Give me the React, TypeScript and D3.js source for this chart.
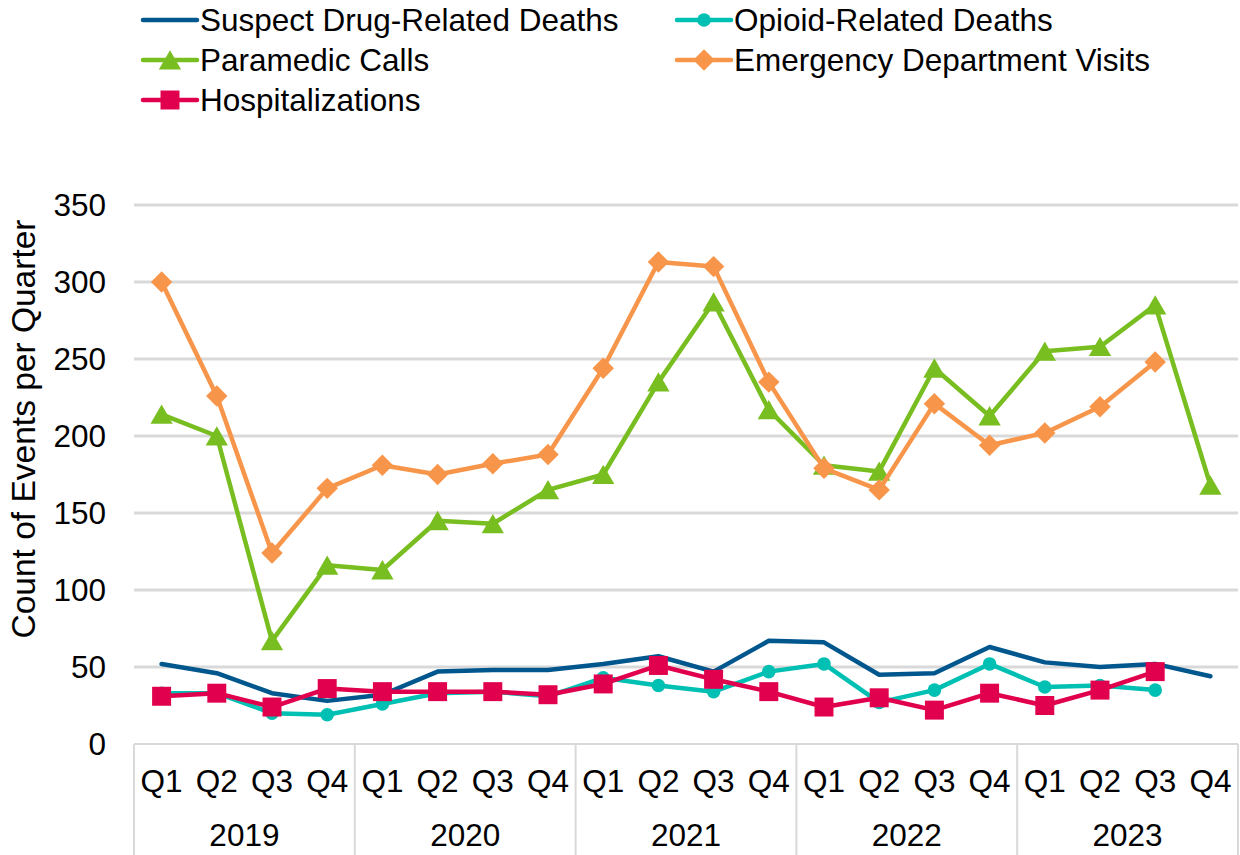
import * as d3 from "d3";
import React, { useEffect, useRef } from "react";

// quarters / years on the x axis
const years = ["2019", "2020", "2021", "2022", "2023"];
const quarters = ["Q1", "Q2", "Q3", "Q4"];
const yTicks = [0, 50, 100, 150, 200, 250, 300, 350];

// values (null = no point)
const suspectDeaths: (number | null)[] = [52, 46, 33, 28, 32, 47, 48, 48, 52, 57, 47, 67, 66, 45, 46, 63, 53, 50, 52, 44];
const opioidDeaths: (number | null)[] = [33, 33, 20, 19, 26, 33, 34, 31, 43, 38, 34, 47, 52, 27, 35, 52, 37, 38, 35, null];
const paramedicCalls: (number | null)[] = [214, 200, 67, 116, 113, 145, 143, 165, 175, 235, 287, 217, 181, 177, 244, 213, 255, 258, 285, 168];
const edVisits: (number | null)[] = [300, 226, 124, 166, 181, 175, 182, 188, 244, 313, 310, 235, 179, 165, 221, 194, 202, 219, 248, null];
const hospitalizations: (number | null)[] = [31, 33, 24, 36, 34, 34, 34, 32, 39, 51, 42, 34, 24, 30, 22, 33, 25, 35, 47, null];

type Series = {
  name: string;
  values: (number | null)[];
  color: string;
  marker: "none" | "circle" | "triangle" | "diamond" | "square";
};

const series: Series[] = [
  { name: "Suspect Drug-Related Deaths", values: suspectDeaths, color: "#00578D", marker: "none" },
  { name: "Opioid-Related Deaths", values: opioidDeaths, color: "#00BFB3", marker: "circle" },
  { name: "Paramedic Calls", values: paramedicCalls, color: "#78BE20", marker: "triangle" },
  { name: "Emergency Department Visits", values: edVisits, color: "#F7964A", marker: "diamond" },
  { name: "Hospitalizations", values: hospitalizations, color: "#E0004D", marker: "square" },
];

const font = "'Liberation Sans', Arial, sans-serif";
const fs = 31.5;

const markerPath = (m: Series["marker"]) => {
  if (m === "circle") return d3.symbol(d3.symbolCircle, 145)()!;
  if (m === "triangle") return d3.symbol(d3.symbolTriangle, 215)()!;
  if (m === "diamond") return d3.symbol(d3.symbolSquare, 230)()!;
  if (m === "square") return d3.symbol(d3.symbolSquare, 360)()!;
  return "";
};

const App: React.FC = () => {
  const ref = useRef<SVGSVGElement | null>(null);

  useEffect(() => {
    if (!ref.current) return;
    d3.select(ref.current).selectAll("*").remove();

    const width = 1240;
    const height = 855;
    const margin = { top: 205, right: 2, bottom: 111, left: 134 };

    const svg = d3.select(ref.current).attr("width", width).attr("height", height);

    const cats = years.flatMap((yr) => quarters.map((q) => `${yr} ${q}`));

    const x = d3
      .scaleBand<string>()
      .domain(cats)
      .range([margin.left, width - margin.right]);

    const y = d3
      .scaleLinear()
      .domain([0, 350])
      .range([height - margin.bottom, margin.top]);

    // gridlines
    svg
      .append("g")
      .selectAll("line")
      .data(yTicks.filter((t) => t > 0))
      .join("line")
      .attr("x1", margin.left)
      .attr("x2", width - margin.right)
      .attr("y1", (d) => y(d))
      .attr("y2", (d) => y(d))
      .attr("stroke", "#D9D9D9")
      .attr("stroke-width", 3);

    // y tick labels
    svg
      .append("g")
      .selectAll("text")
      .data(yTicks)
      .join("text")
      .attr("x", 106)
      .attr("y", (d) => y(d))
      .attr("dy", "0.35em")
      .attr("text-anchor", "end")
      .attr("font-family", font)
      .attr("font-size", fs)
      .attr("fill", "#000")
      .text((d) => d);

    // y title
    svg
      .append("text")
      .attr("transform", `translate(35,429) rotate(-90)`)
      .attr("text-anchor", "middle")
      .attr("font-family", font)
      .attr("font-size", 33.5)
      .attr("fill", "#000")
      .text("Count of Events per Quarter");

    // x axis line + year separators
    const y0 = y(0);
    svg
      .append("line")
      .attr("x1", margin.left)
      .attr("x2", width - margin.right)
      .attr("y1", y0)
      .attr("y2", y0)
      .attr("stroke", "#D9D9D9")
      .attr("stroke-width", 2);

    const bounds = years.map((yr) => x(`${yr} Q1`)!);
    bounds.push(width - margin.right);
    svg
      .append("g")
      .selectAll("line")
      .data(bounds)
      .join("line")
      .attr("x1", (d) => d)
      .attr("x2", (d) => d)
      .attr("y1", y0)
      .attr("y2", height)
      .attr("stroke", "#D9D9D9")
      .attr("stroke-width", 2);

    // quarter labels
    svg
      .append("g")
      .selectAll("text")
      .data(cats)
      .join("text")
      .attr("x", (d) => x(d)! + x.bandwidth() / 2)
      .attr("y", 781)
      .attr("dy", "0.35em")
      .attr("text-anchor", "middle")
      .attr("font-family", font)
      .attr("font-size", fs)
      .attr("fill", "#000")
      .text((d) => d.split(" ")[1]);

    // year labels
    svg
      .append("g")
      .selectAll("text")
      .data(years)
      .join("text")
      .attr("x", (d) => x(`${d} Q1`)! + x.bandwidth() * 2)
      .attr("y", 835)
      .attr("dy", "0.35em")
      .attr("text-anchor", "middle")
      .attr("font-family", font)
      .attr("font-size", fs)
      .attr("fill", "#000")
      .text((d) => d);

    const cx = (i: number) => x(cats[i])! + x.bandwidth() / 2;

    const line = d3
      .line<number | null>()
      .defined((d) => d !== null)
      .x((_, i) => cx(i))
      .y((d) => y(d as number));

    series.forEach((s) => {
      const g = svg.append("g");
      g.append("path")
        .datum(s.values)
        .attr("fill", "none")
        .attr("stroke", s.color)
        .attr("stroke-width", 4.5)
        .attr("stroke-linejoin", "round")
        .attr("stroke-linecap", "round")
        .attr("d", line);

      if (s.marker !== "none") {
        const pts = s.values
          .map((v, i) => ({ v, i }))
          .filter((p) => p.v !== null);
        g.selectAll("path.m")
          .data(pts)
          .join("path")
          .attr("class", "m")
          .attr("d", markerPath(s.marker))
          .attr("transform", (p) => {
            const ty = s.marker === "triangle" ? 3 : 0;
            const rot = s.marker === "diamond" ? " rotate(45)" : "";
            return `translate(${cx(p.i)},${y(p.v as number) + ty})${rot}`;
          })
          .attr("fill", s.color);
      }
    });

    // legend
    const legendPos = [
      [141, 20],
      [675, 20],
      [141, 60],
      [675, 60],
      [141, 100],
    ];
    series.forEach((s, i) => {
      const [lx, ly] = legendPos[i];
      const g = svg.append("g").attr("transform", `translate(${lx},${ly})`);
      g.append("line")
        .attr("x1", 2)
        .attr("x2", 56)
        .attr("stroke", s.color)
        .attr("stroke-width", 4.5)
        .attr("stroke-linecap", "round");
      if (s.marker !== "none") {
        const rot = s.marker === "diamond" ? " rotate(45)" : "";
        const ty = s.marker === "triangle" ? 3 : 0;
        g.append("path")
          .attr("d", markerPath(s.marker))
          .attr("transform", `translate(29,${ty})${rot}`)
          .attr("fill", s.color);
      }
      g.append("text")
        .attr("x", 59)
        .attr("dy", "0.35em")
        .attr("font-family", font)
        .attr("font-size", fs)
        .attr("fill", "#000")
        .text(s.name);
    });
  }, []);

  return <svg ref={ref} style={{ position: "absolute", left: 0, top: 0 }}></svg>;
};

export default App;
